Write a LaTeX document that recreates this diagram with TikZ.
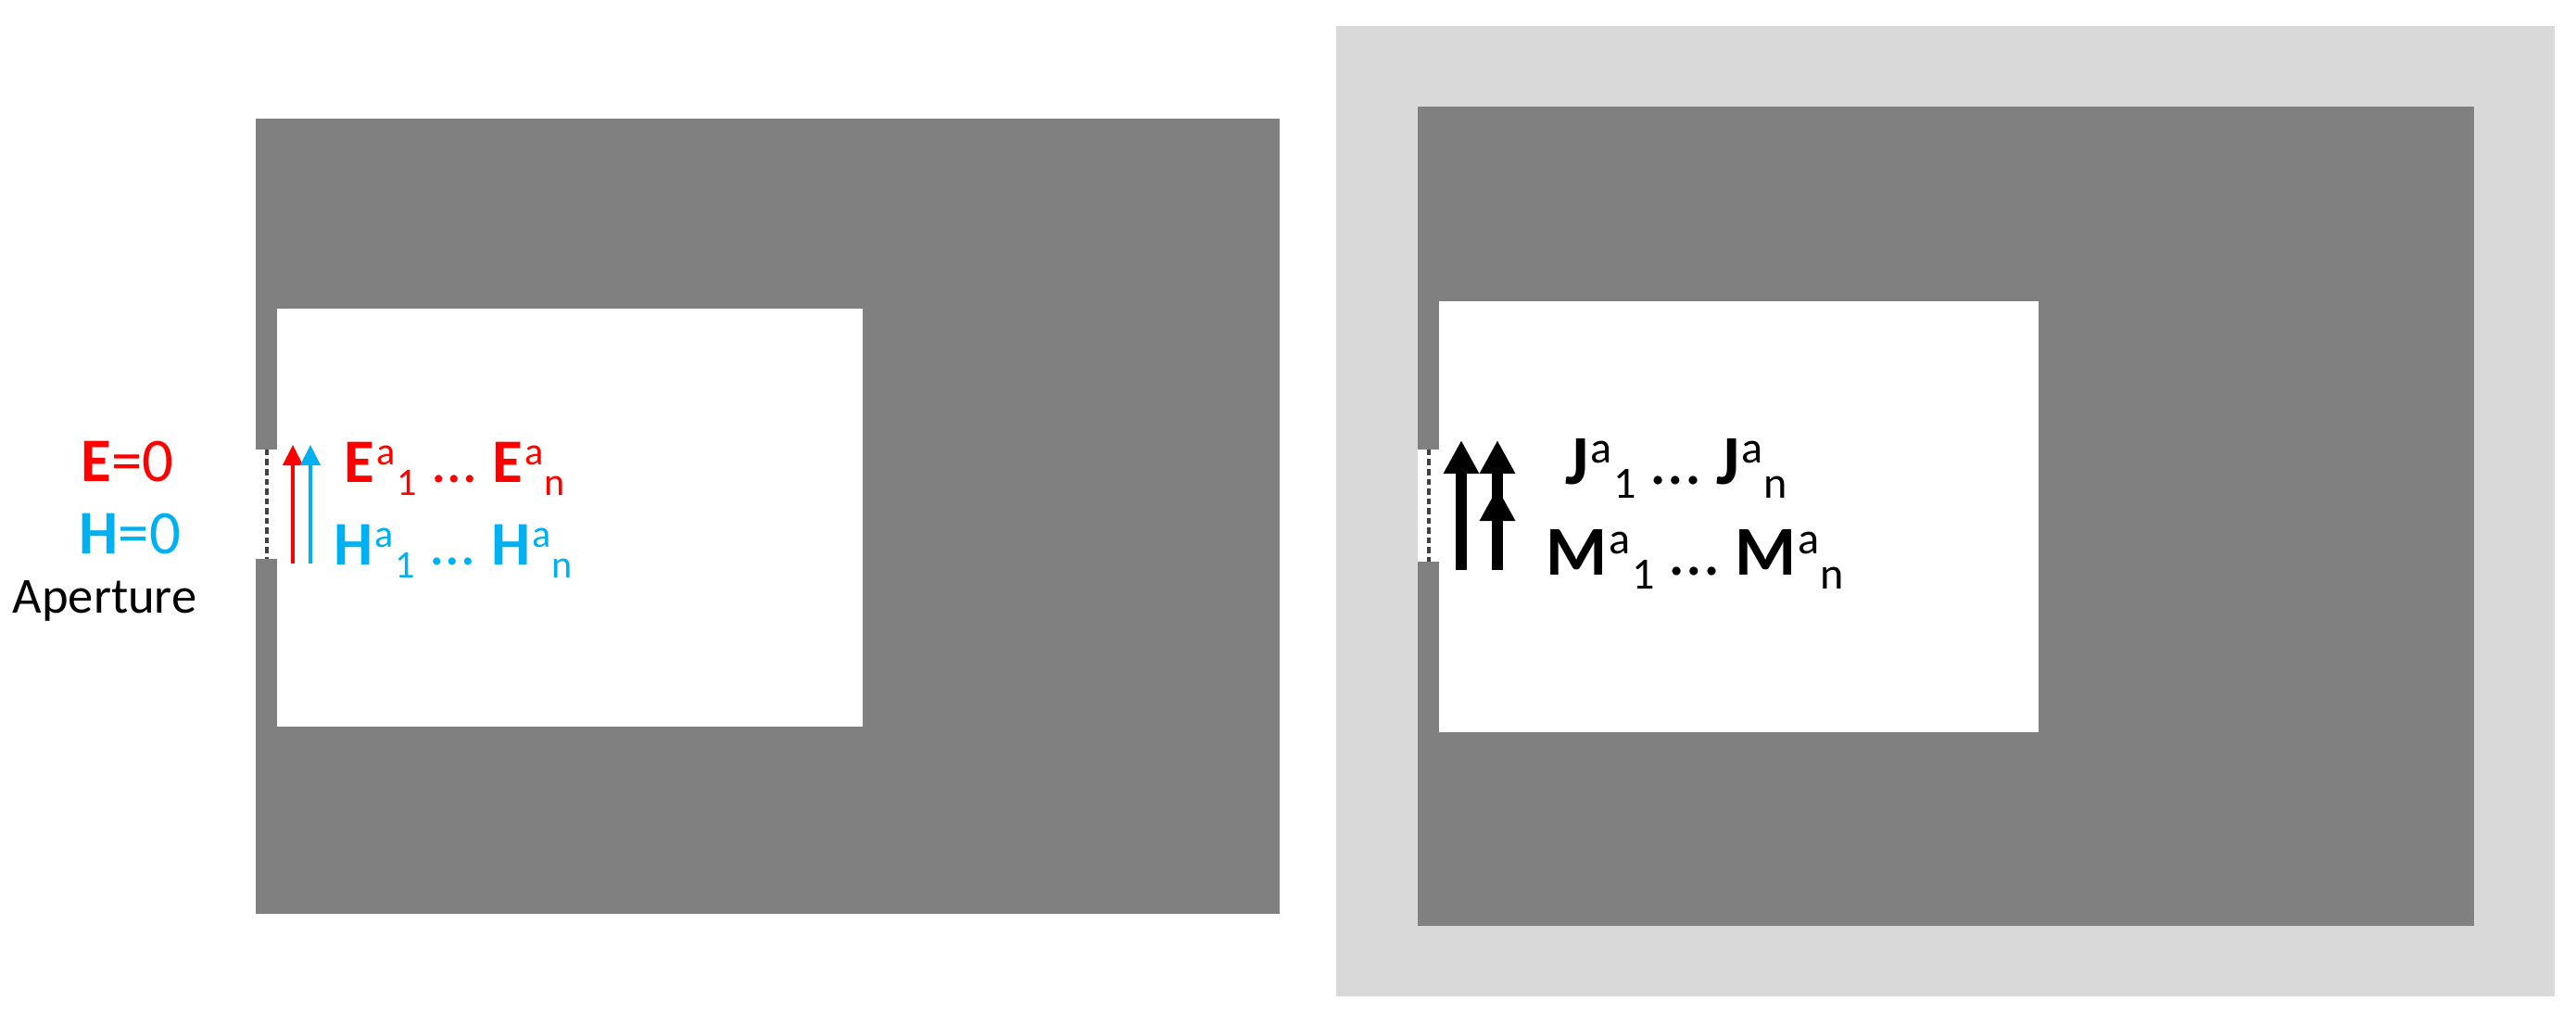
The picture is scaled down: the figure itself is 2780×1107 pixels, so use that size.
\documentclass[tikz,border=0pt]{standalone}
\usepackage{fontspec}
\setmainfont{Carlito}
\usetikzlibrary{arrows.meta}
\definecolor{wallgray}{HTML}{808080}
\definecolor{shellgray}{HTML}{D9D9D9}
\definecolor{ered}{HTML}{FF0000}
\definecolor{hblue}{HTML}{00B0F0}
\definecolor{dashgray}{HTML}{404040}
\newcommand{\mainsz}{\fontsize{19}{22}\selectfont}
\newcommand{\smallsz}{\fontsize{12}{14}\selectfont}
\newcommand{\bigmainsz}{\fontsize{21.5}{25}\selectfont}
\newcommand{\bigsmallsz}{\fontsize{13.7}{16}\selectfont}
\newcommand{\supsubx}[2]{\hspace{0.02cm}\raisebox{0.19cm}{\smallsz #1}\hspace{0.015cm}\raisebox{-0.14cm}{\smallsz #2}}
\newcommand{\bigsupsub}[2]{\hspace{0.02cm}\raisebox{0.23cm}{\bigsmallsz #1}\hspace{0.015cm}\raisebox{-0.15cm}{\bigsmallsz #2}}
\newcommand{\elli}{\hspace{0.18cm}…\hspace{0.18cm}}
\begin{document}
\begin{tikzpicture}[x=0.01cm,y=-0.01cm,
  wallfill/.style={fill=wallgray,draw=none},
  shellfill/.style={fill=shellgray,draw=none},
  holefill/.style={fill=white,draw=none},
  apdash/.style={draw=dashgray,line width=0.035cm,dash pattern=on 0.065cm off 0.04cm},
  lbl/.style={inner sep=0pt,anchor=base west,font=\mainsz},
  biglbl/.style={inner sep=0pt,anchor=base west,font=\bigmainsz},
  thinarrow/.style={line width=0.04cm,-{Triangle[width=0.21cm,length=0.22cm]}},
  thickarrow/.style={line width=0.12cm,black,-{Triangle[width=0.36cm,length=0.36cm]}}]
\useasboundingbox (0,0) rectangle (2780,1107);
% ---------- left figure ----------
\fill[wallfill] (276,128) rectangle (1381,986);
\fill[holefill] (299,333) rectangle (931,784);
\fill[holefill] (276,485) rectangle (299,603);
\draw[apdash] (288,485) -- (288,603);
\coordinate (rb) at (316,608);
\coordinate (rt) at (316,480);
\coordinate (bb) at (335,608);
\coordinate (bt) at (335,480);
\draw[thinarrow,ered] (rb) -- (rt);
\draw[thinarrow,hblue] (bb) -- (bt);
\node[lbl,text=ered] (ezero) at (87,520) {\textbf{E}=0};
\node[lbl,text=hblue] (hzero) at (85,598) {\textbf{H}=0};
\node[lbl,font=\fontsize{15.5}{18}\selectfont] (apt) at (13,662) {Aperture};
\node[lbl,text=ered] (eline) at (371,521) {\textbf{E}\supsubx{a}{1}\elli\textbf{E}\supsubx{a}{n}};
\node[lbl,text=hblue] (hline) at (360,610) {\textbf{H}\supsubx{a}{1}\elli\textbf{H}\supsubx{a}{n}};
% ---------- right figure ----------
\fill[shellfill] (1442,28) rectangle (2757,1075);
\fill[wallfill] (1530,115) rectangle (2670,999);
\fill[holefill] (1553,325) rectangle (2200,790);
\fill[holefill] (1530,485) rectangle (1553,606);
\draw[apdash] (1542,485) -- (1542,606);
\coordinate (jb) at (1577,615);
\coordinate (jt) at (1577,475);
\coordinate (mb) at (1616,615);
\coordinate (mt) at (1616,475);
\coordinate (mm) at (1616,526);
\draw[thickarrow] (jb) -- (jt);
\draw[thickarrow] (mb) -- (mt);
\draw[thickarrow] (mb) -- (mm);
\node[biglbl] (jline) at (1689,523) {\textbf{J}\bigsupsub{a}{1} … \textbf{J}\bigsupsub{a}{n}};
\node[biglbl] (mline) at (1668,621) {\textbf{M}\bigsupsub{a}{1} … \textbf{M}\bigsupsub{a}{n}};
\end{tikzpicture}
\end{document}
